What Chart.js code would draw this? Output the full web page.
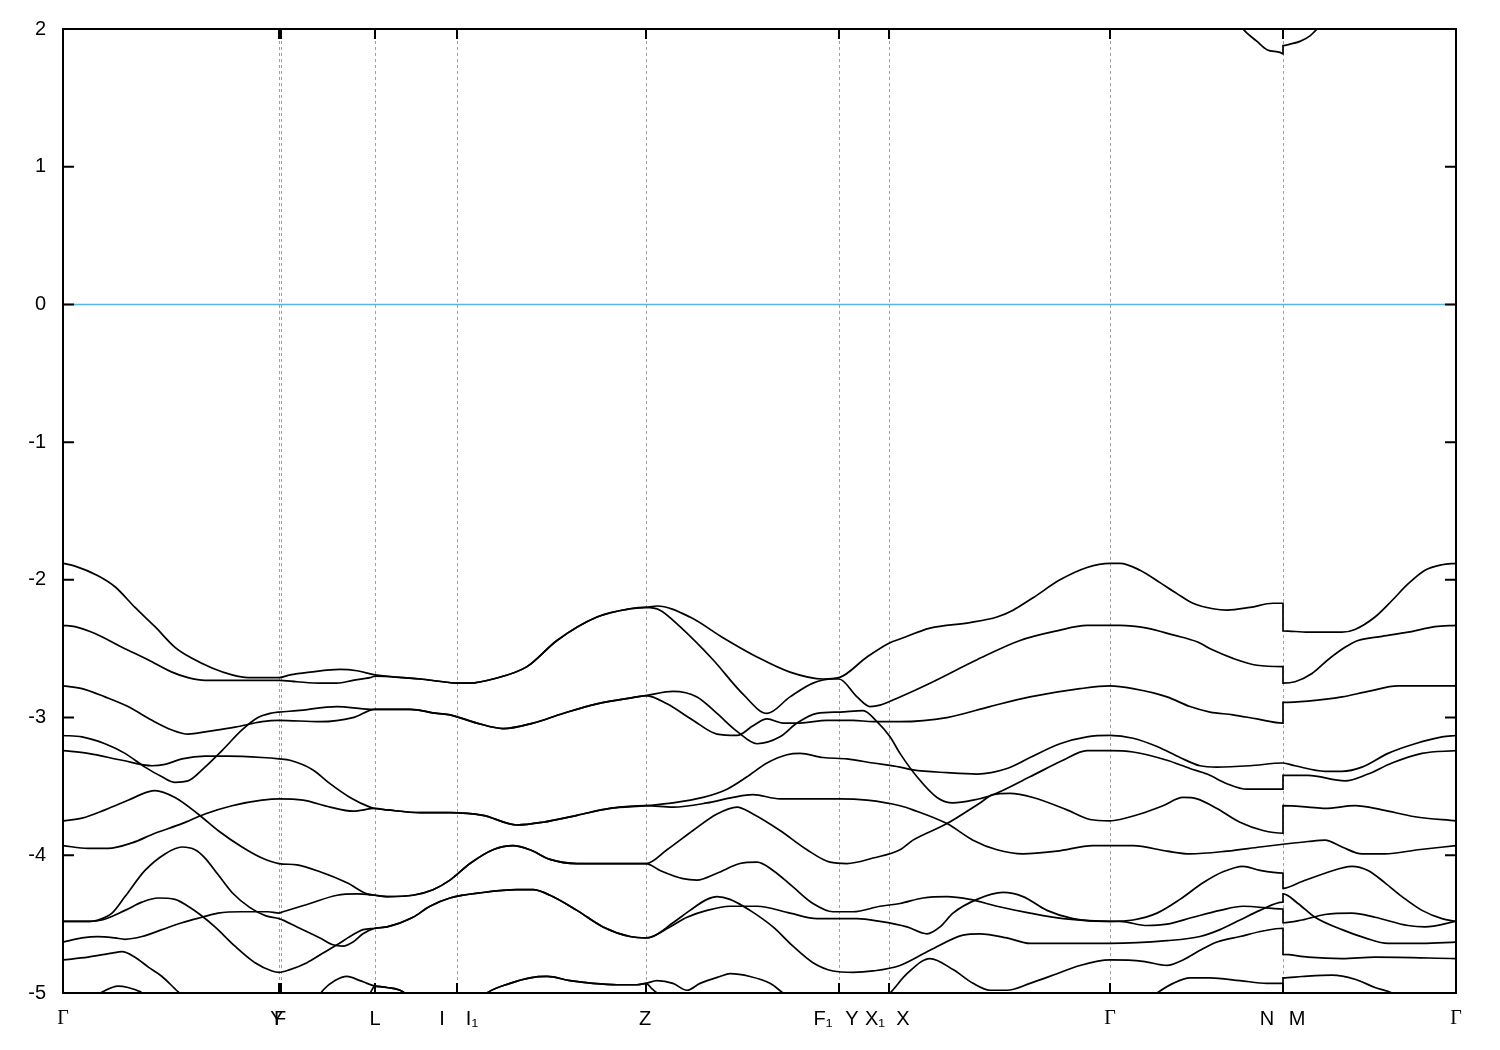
<!DOCTYPE html>
<html><head><meta charset="utf-8">
<script src="https://cdn.jsdelivr.net/npm/chart.js@4.4.1/dist/chart.umd.min.js"></script>
<style>html,body{margin:0;padding:0;background:#fff;}canvas{display:block;}</style>
</head><body>
<canvas id="c" width="1500" height="1050"></canvas>
<script>
// high-symmetry k positions (dashed lines) and path length
const kSym = [2.16, 2.18, 3.12, 3.94, 5.83, 7.76, 8.26, 10.47, 12.20];
const kMin = 0, kMax = 13.93;
// tick labels along the k path
const labelK = [0, 2.14, 2.17, 3.12, 3.79, 4.09, 5.82, 7.60, 7.89, 8.12, 8.40, 10.47, 12.04, 12.34, 13.93];
const labelText = ['Γ','Y','F','L','I','I₁','Z','F₁','Y','X₁','X','Γ','N','M','Γ'];
const yTicks = [2, 1, 0, -1, -2, -3, -4, -5];
const fermi = [[0, 0], [13.93, 0]];

const band1 = [[0,-1.88],[0.12,-1.90],[0.35,-1.97],[0.52,-2.05],[0.72,-2.20],[0.92,-2.34],[1.12,-2.49],[1.29,-2.57],[1.49,-2.64],[1.69,-2.69],[1.85,-2.71],[2.05,-2.71],[2.16,-2.71],
[2.27,-2.69],[2.47,-2.67],[2.77,-2.65],[2.94,-2.66],[3.12,-2.69],
[3.40,-2.71],[3.57,-2.72],[3.80,-2.74],[3.94,-2.75],[4.07,-2.75],[4.30,-2.72],[4.64,-2.63],[4.94,-2.44],[5.34,-2.27],[5.67,-2.21],[5.83,-2.20],
[5.94,-2.19],[6.27,-2.27],[6.60,-2.42],[6.94,-2.56],[7.27,-2.67],[7.60,-2.72],[7.76,-2.71],
[8.04,-2.56],[8.26,-2.46],[8.37,-2.43],[8.67,-2.35],[9.07,-2.31],[9.34,-2.27],[9.50,-2.22],[9.70,-2.13],[9.97,-2.00],[10.24,-1.91],[10.47,-1.88],
[10.57,-1.88],[10.77,-1.93],[10.97,-2.02],[11.14,-2.10],[11.30,-2.17],[11.50,-2.21],[11.64,-2.22],[11.87,-2.20],[12.10,-2.17],[12.20,-2.17],
[12.20,-2.37],[12.45,-2.38],[12.79,-2.38],[12.92,-2.36],[13.12,-2.27],[13.29,-2.15],[13.45,-2.03],[13.62,-1.93],[13.79,-1.89],[13.93,-1.88]];

const band2 = [[0,-2.33],[0.12,-2.34],[0.32,-2.39],[0.59,-2.49],[0.85,-2.58],[1.09,-2.67],[1.25,-2.71],[1.42,-2.73],[1.77,-2.73],[2.16,-2.73],
[2.34,-2.74],[2.57,-2.75],[2.74,-2.75],[2.90,-2.73],[3.07,-2.71],[3.12,-2.70],
[3.40,-2.71],[3.57,-2.72],[3.80,-2.74],[3.94,-2.75],[4.07,-2.75],[4.30,-2.72],[4.64,-2.63],[4.94,-2.44],[5.34,-2.27],[5.67,-2.21],[5.83,-2.20],
[5.97,-2.22],[6.17,-2.34],[6.50,-2.58],[6.80,-2.83],[7.04,-2.97],[7.27,-2.85],[7.50,-2.75],[7.70,-2.72],[7.76,-2.72],
[7.94,-2.85],[8.07,-2.92],[8.17,-2.91],[8.37,-2.85],[8.67,-2.75],[9.14,-2.58],[9.57,-2.44],[9.94,-2.37],[10.24,-2.33],[10.47,-2.33],
[10.57,-2.33],[10.84,-2.35],[11.10,-2.40],[11.34,-2.45],[11.50,-2.51],[11.70,-2.57],[11.94,-2.62],[12.20,-2.63],
[12.20,-2.75],[12.32,-2.74],[12.49,-2.68],[12.65,-2.58],[12.82,-2.49],[12.95,-2.44],[13.19,-2.41],[13.45,-2.38],[13.72,-2.34],[13.93,-2.33]];

const band3 = [[0,-2.77],[0.19,-2.79],[0.42,-2.85],[0.65,-2.92],[0.89,-3.02],[1.09,-3.09],[1.25,-3.12],[1.45,-3.10],[1.72,-3.07],[1.99,-3.03],[2.16,-3.02],
[2.57,-3.03],[2.90,-3.00],[3.12,-2.94],
[3.47,-2.94],[3.74,-2.97],[3.87,-2.98],[4.14,-3.04],[4.40,-3.08],[4.70,-3.04],[5.00,-2.97],[5.34,-2.90],[5.74,-2.85],[5.83,-2.84],
[6.04,-2.90],[6.30,-3.02],[6.54,-3.12],[6.74,-3.13],[6.90,-3.06],[7.04,-3.01],[7.20,-3.04],[7.37,-3.04],[7.64,-3.02],[7.90,-3.02],[8.10,-3.03],[8.37,-3.03],[8.84,-3.00],[9.27,-2.92],[9.67,-2.85],[10.17,-2.79],[10.47,-2.77],
[10.70,-2.79],[11.04,-2.85],[11.27,-2.92],[11.47,-2.96],[11.70,-2.98],[11.94,-3.01],[12.20,-3.04],
[12.20,-2.89],[12.45,-2.88],[12.79,-2.85],[13.05,-2.81],[13.35,-2.77],[13.55,-2.77],[13.93,-2.77]];

const band4 = [[0,-3.13],[0.19,-3.14],[0.42,-3.19],[0.62,-3.26],[0.82,-3.36],[0.99,-3.43],[1.12,-3.47],[1.25,-3.46],[1.42,-3.36],[1.59,-3.24],[1.79,-3.09],[1.95,-3.00],[2.07,-2.97],[2.16,-2.96],
[2.34,-2.95],[2.74,-2.92],[3.07,-2.94],[3.12,-2.94],
[3.47,-2.94],[3.74,-2.97],[3.87,-2.98],[4.14,-3.04],[4.40,-3.08],[4.70,-3.04],[5.00,-2.97],[5.34,-2.90],[5.74,-2.85],[5.83,-2.84],
[6.10,-2.81],[6.34,-2.85],[6.54,-2.97],[6.74,-3.10],[6.94,-3.19],[7.17,-3.14],[7.34,-3.04],[7.54,-2.97],[7.77,-2.96],[8.00,-2.95],[8.14,-3.03],[8.27,-3.14],[8.37,-3.26],[8.54,-3.43],[8.74,-3.58],[8.90,-3.62],[9.10,-3.60],[9.30,-3.56],[9.67,-3.43],[10.00,-3.31],[10.24,-3.24],[10.47,-3.24],
[10.70,-3.25],[11.04,-3.31],[11.27,-3.37],[11.44,-3.41],[11.64,-3.48],[11.84,-3.52],[12.20,-3.52],
[12.20,-3.42],[12.45,-3.42],[12.82,-3.46],[13.05,-3.41],[13.29,-3.33],[13.59,-3.26],[13.93,-3.24]];

const band5 = [[0,-3.24],[0.25,-3.26],[0.59,-3.31],[0.89,-3.35],[1.02,-3.34],[1.19,-3.30],[1.42,-3.28],[1.65,-3.28],[1.99,-3.29],[2.16,-3.30],
[2.27,-3.31],[2.50,-3.38],[2.67,-3.48],[2.87,-3.58],[3.07,-3.65],[3.12,-3.66],
[3.24,-3.67],[3.57,-3.69],[3.87,-3.69],[4.20,-3.71],[4.54,-3.78],[4.80,-3.76],[5.14,-3.71],[5.47,-3.66],[5.83,-3.64],
[6.10,-3.62],[6.40,-3.58],[6.64,-3.52],[6.84,-3.43],[7.04,-3.33],[7.24,-3.27],[7.37,-3.26],[7.60,-3.29],[7.84,-3.30],[8.10,-3.33],[8.37,-3.36],[8.50,-3.38],[8.84,-3.40],[9.14,-3.41],[9.44,-3.37],[9.67,-3.29],[9.97,-3.19],[10.24,-3.14],[10.47,-3.13],
[10.70,-3.15],[10.94,-3.21],[11.17,-3.29],[11.37,-3.35],[11.54,-3.36],[11.87,-3.35],[12.20,-3.33],[12.32,-3.35],[12.62,-3.39],[12.79,-3.39],[12.99,-3.36],[13.25,-3.26],[13.52,-3.19],[13.79,-3.14],[13.93,-3.13]];

const band6 = [[0,-3.75],[0.19,-3.73],[0.42,-3.67],[0.65,-3.60],[0.85,-3.54],[0.92,-3.53],[1.12,-3.58],[1.35,-3.70],[1.55,-3.82],[1.79,-3.94],[1.99,-4.02],[2.16,-4.06],
[2.34,-4.07],[2.57,-4.12],[2.84,-4.20],[3.04,-4.28],[3.12,-4.29],
[3.24,-4.30],[3.50,-4.29],[3.70,-4.25],[3.87,-4.18],[4.07,-4.06],[4.30,-3.96],[4.50,-3.93],[4.67,-3.96],[4.87,-4.03],[5.14,-4.06],[5.54,-4.06],[5.83,-4.06],
[6.04,-3.96],[6.30,-3.82],[6.54,-3.70],[6.74,-3.65],[6.90,-3.70],[7.17,-3.82],[7.44,-3.96],[7.67,-4.05],[7.84,-4.06],[8.10,-4.02],[8.37,-3.96],[8.50,-3.89],[8.84,-3.77],[9.17,-3.62],[9.30,-3.56],[9.47,-3.55],[9.70,-3.58],[10.04,-3.67],[10.27,-3.74],[10.47,-3.75],
[10.57,-3.74],[10.77,-3.70],[11.00,-3.64],[11.20,-3.58],[11.34,-3.59],[11.54,-3.66],[11.77,-3.76],[12.00,-3.82],[12.20,-3.84],
[12.20,-3.64],[12.45,-3.65],[12.62,-3.66],[12.92,-3.64],[13.19,-3.67],[13.52,-3.72],[13.93,-3.75]];

const band7 = [[0,-3.93],[0.25,-3.95],[0.45,-3.95],[0.69,-3.91],[0.92,-3.84],[1.19,-3.77],[1.42,-3.70],[1.69,-3.64],[1.99,-3.60],[2.16,-3.59],
[2.40,-3.60],[2.67,-3.65],[2.90,-3.68],[3.12,-3.66],
[3.24,-3.67],[3.57,-3.69],[3.87,-3.69],[4.20,-3.71],[4.54,-3.78],[4.80,-3.76],[5.14,-3.71],[5.47,-3.66],[5.83,-3.64],
[6.10,-3.65],[6.44,-3.62],[6.70,-3.58],[6.90,-3.56],[7.17,-3.59],[7.50,-3.59],[7.77,-3.59],[8.04,-3.60],[8.37,-3.64],[8.50,-3.67],[8.84,-3.77],[9.10,-3.89],[9.34,-3.96],[9.60,-3.99],[9.94,-3.97],[10.30,-3.93],[10.47,-3.93],
[10.70,-3.93],[11.04,-3.97],[11.27,-3.99],[11.64,-3.97],[11.97,-3.94],[12.20,-3.92],[12.45,-3.90],[12.62,-3.89],[12.79,-3.94],[12.99,-3.99],[13.22,-3.99],[13.55,-3.96],[13.93,-3.93]];

const band8 = [[0,-4.48],[0.27,-4.48],[0.35,-4.47],[0.49,-4.42],[0.62,-4.30],[0.82,-4.11],[1.02,-3.99],[1.19,-3.94],[1.32,-3.96],[1.42,-4.02],[1.55,-4.14],[1.69,-4.27],[1.87,-4.38],[2.03,-4.44],[2.16,-4.46],
[2.34,-4.52],[2.57,-4.60],[2.70,-4.65],[2.80,-4.66],[2.90,-4.63],[3.00,-4.57],[3.12,-4.53],
[3.24,-4.52],[3.50,-4.45],[3.67,-4.37],[3.87,-4.31],[4.20,-4.27],[4.54,-4.25],[4.70,-4.25],[4.87,-4.29],[5.14,-4.40],[5.40,-4.52],[5.67,-4.59],[5.83,-4.60],
[5.90,-4.59],[6.10,-4.49],[6.27,-4.40],[6.44,-4.32],[6.54,-4.30],[6.67,-4.32],[6.87,-4.40],[7.10,-4.52],[7.30,-4.66],[7.50,-4.78],[7.70,-4.84],[7.90,-4.85],[8.10,-4.84],[8.37,-4.80],[8.67,-4.69],[9.00,-4.58],[9.17,-4.57],[9.44,-4.60],[9.67,-4.64],[10.17,-4.64],[10.47,-4.64],
[11.04,-4.62],[11.37,-4.59],[11.57,-4.54],[11.77,-4.47],[11.97,-4.40],[12.20,-4.34],
[12.20,-4.28],[12.35,-4.35],[12.52,-4.45],[12.79,-4.54],[13.02,-4.60],[13.25,-4.64],[13.59,-4.64],[13.93,-4.63]];

const band9 = [[0,-4.48],[0.27,-4.48],[0.39,-4.47],[0.62,-4.40],[0.79,-4.34],[0.95,-4.31],[1.12,-4.32],[1.25,-4.37],[1.37,-4.43],[1.52,-4.52],[1.72,-4.66],[1.92,-4.78],[2.09,-4.84],[2.16,-4.85],
[2.27,-4.83],[2.44,-4.78],[2.60,-4.71],[2.74,-4.65],[2.87,-4.59],[3.00,-4.54],[3.12,-4.53],
[3.24,-4.52],[3.50,-4.45],[3.67,-4.37],[3.87,-4.31],[4.20,-4.27],[4.54,-4.25],[4.70,-4.25],[4.87,-4.29],[5.14,-4.40],[5.40,-4.52],[5.67,-4.59],[5.83,-4.60],
[6.07,-4.52],[6.24,-4.45],[6.44,-4.40],[6.67,-4.37],[6.94,-4.37],[7.27,-4.42],[7.54,-4.46],[7.94,-4.46],[8.17,-4.48],[8.44,-4.52],[8.64,-4.57],[8.77,-4.52],[8.90,-4.42],[9.14,-4.32],[9.40,-4.27],[9.60,-4.30],[9.84,-4.40],[10.10,-4.46],[10.47,-4.48],
[10.70,-4.47],[10.94,-4.42],[11.17,-4.32],[11.40,-4.20],[11.60,-4.12],[11.80,-4.08],[11.97,-4.11],[12.20,-4.13],
[12.20,-4.24],[12.39,-4.19],[12.62,-4.13],[12.89,-4.08],[13.05,-4.11],[13.22,-4.20],[13.39,-4.30],[13.59,-4.40],[13.79,-4.46],[13.93,-4.48]];

const band10 = [[0,-4.63],[0.19,-4.60],[0.35,-4.59],[0.52,-4.60],[0.62,-4.61],[0.79,-4.59],[0.99,-4.54],[1.19,-4.49],[1.39,-4.45],[1.55,-4.42],[1.79,-4.41],[2.05,-4.41],[2.16,-4.42],
[2.20,-4.41],[2.47,-4.35],[2.74,-4.29],[2.94,-4.28],[3.12,-4.29],
[3.24,-4.30],[3.50,-4.29],[3.70,-4.25],[3.87,-4.18],[4.07,-4.06],[4.30,-3.96],[4.50,-3.93],[4.67,-3.96],[4.87,-4.03],[5.14,-4.06],[5.54,-4.06],[5.83,-4.06],
[5.97,-4.11],[6.20,-4.17],[6.34,-4.18],[6.54,-4.13],[6.77,-4.06],[6.94,-4.05],[7.10,-4.11],[7.30,-4.23],[7.50,-4.35],[7.70,-4.41],[7.90,-4.41],[8.17,-4.37],[8.37,-4.35],[8.60,-4.31],[8.84,-4.30],[9.07,-4.32],[9.34,-4.37],[9.67,-4.42],[10.00,-4.46],[10.47,-4.48],
[10.57,-4.48],[10.84,-4.51],[11.04,-4.50],[11.30,-4.45],[11.57,-4.40],[11.80,-4.37],[12.20,-4.39],
[12.20,-4.49],[12.39,-4.47],[12.62,-4.43],[12.89,-4.42],[13.12,-4.45],[13.45,-4.51],[13.62,-4.52],[13.93,-4.48]];

const band11 = [[0,-4.76],[0.25,-4.74],[0.49,-4.71],[0.59,-4.70],[0.72,-4.74],[0.85,-4.81],[0.99,-4.88],[1.15,-4.99],[1.32,-5.09],[1.67,-5.16],[2.27,-5.16],[2.52,-5.06],[2.60,-4.98],[2.72,-4.91],[2.84,-4.88],[2.97,-4.91],[3.04,-4.93],[3.12,-4.95],
[3.24,-4.96],[3.37,-4.98],[3.52,-5.05],[3.87,-5.12],[4.17,-5.05],[4.24,-5.00],[4.47,-4.93],[4.67,-4.89],[4.84,-4.88],[5.07,-4.91],[5.30,-4.93],[5.54,-4.94],[5.74,-4.94],[5.83,-4.93],
[5.94,-4.91],[6.10,-4.93],[6.24,-4.98],[6.37,-4.93],[6.57,-4.88],[6.67,-4.86],[6.87,-4.88],[7.07,-4.93],[7.20,-5.00],[7.37,-5.09],[7.77,-5.16],[8.07,-5.12],[8.22,-5.03],[8.27,-5.00],[8.44,-4.86],[8.67,-4.75],[8.90,-4.83],[9.10,-4.93],[9.27,-4.98],[9.44,-4.98],[9.67,-4.93],[9.94,-4.86],[10.17,-4.80],[10.47,-4.76],
[10.80,-4.77],[11.04,-4.80],[11.20,-4.76],[11.37,-4.69],[11.54,-4.63],[11.77,-4.59],[12.00,-4.55],[12.20,-4.53],
[12.20,-4.72],[12.45,-4.74],[12.79,-4.75],[13.12,-4.74],[13.93,-4.75]];

const band12 = [[0,-5.12],[0.27,-5.05],[0.40,-4.99],[0.55,-4.95],[0.65,-4.96],[0.77,-4.99],[0.89,-5.05],[1.12,-5.16],[2.37,-5.19],[2.92,-5.09],[3.07,-5.00],[3.12,-4.95],
[3.24,-4.96],[3.37,-4.98],[3.52,-5.05],[3.87,-5.12],[4.17,-5.05],[4.24,-5.00],[4.47,-4.93],[4.67,-4.89],[4.84,-4.88],[5.07,-4.91],[5.30,-4.93],[5.54,-4.94],[5.74,-4.94],[5.83,-4.93],
[5.89,-4.97],[5.94,-5.00],[6.07,-5.09],[6.50,-5.20],[10.00,-5.25],[10.77,-5.09],[10.94,-5.00],[11.10,-4.93],[11.27,-4.89],[11.47,-4.89],[11.77,-4.91],[12.04,-4.93],[12.20,-4.93],
[12.20,-4.89],[12.39,-4.88],[12.69,-4.87],[12.92,-4.90],[13.12,-4.96],[13.29,-5.00],[13.57,-5.12],[13.93,-5.12]];

const cband = [[11.72,2.09],[11.80,2.00],[11.94,1.91],[12.04,1.85],[12.17,1.83],[12.20,1.82],[12.20,1.88],[12.27,1.89],[12.37,1.91],[12.47,1.95],[12.54,2.00],[12.62,2.07]];

const bands = [band1, band2, band3, band4, band5, band6, band7, band8, band9, band10, band11, band12, cband];
const toXY = arr => arr.map(p => ({x: p[0], y: p[1]}));

const datasets = bands.map(b => ({
  data: toXY(b), borderColor: '#000', borderWidth: 1.7, pointRadius: 0,
  cubicInterpolationMode: 'monotone', fill: false
}));
datasets.push({data: toXY(fermi), borderColor: 'rgb(86,180,233)', borderWidth: 1.5, pointRadius: 0, fill: false});

const framePlugin = {
  id: 'frame',
  beforeDatasetsDraw(chart) {
    const {ctx, chartArea: a, scales: {x}} = chart;
    ctx.save();
    ctx.strokeStyle = '#a0a0a0'; ctx.lineWidth = 1; ctx.setLineDash([3, 3]);
    kSym.forEach(k => {
      const px = Math.round(x.getPixelForValue(k)) + 0.5;
      ctx.beginPath(); ctx.moveTo(px, a.top); ctx.lineTo(px, a.bottom); ctx.stroke();
    });
    ctx.restore();
  },
  afterDatasetsDraw(chart) {
    const {ctx, chartArea: a, scales: {x, y}} = chart;
    ctx.save();
    ctx.strokeStyle = '#000'; ctx.lineWidth = 2; ctx.setLineDash([]);
    ctx.strokeRect(a.left, a.top, a.right - a.left, a.bottom - a.top);
    ctx.beginPath();
    yTicks.forEach(v => {
      const py = y.getPixelForValue(v);
      ctx.moveTo(a.left, py); ctx.lineTo(a.left + 11, py);
      ctx.moveTo(a.right, py); ctx.lineTo(a.right - 11, py);
    });
    kSym.forEach(k => {
      const px = x.getPixelForValue(k);
      ctx.moveTo(px, a.bottom); ctx.lineTo(px, a.bottom - 10);
      ctx.moveTo(px, a.top); ctx.lineTo(px, a.top + 10);
    });
    ctx.stroke();
    ctx.restore();
  }
};

new Chart(document.getElementById('c'), {
  type: 'line',
  data: {datasets},
  options: {
    responsive: false, animation: false,
    layout: {padding: {top: 28, right: 44, left: 0, bottom: 0}},
    plugins: {legend: {display: false}, tooltip: {enabled: false}},
    scales: {
      x: {
        type: 'linear', min: kMin, max: kMax,
        grid: {display: false, drawTicks: false}, border: {display: false},
        afterBuildTicks: s => { s.ticks = labelK.map(v => ({value: v})); },
        afterFit: s => { s.height = 57; },
        ticks: {
          autoSkip: false, maxRotation: 0, minRotation: 0, padding: 14, color: '#000',
          font: c => ({family: labelText[c.index] === 'Γ' ? '"Liberation Serif", serif' : '"Liberation Sans", Arial, sans-serif', size: 20}),
          callback: (v, i) => labelText[i]
        }
      },
      y: {
        min: -5, max: 2,
        afterFit: s => { s.width = 63; },
        grid: {display: false, drawTicks: false}, border: {display: false},
        ticks: {stepSize: 1, padding: 17, color: '#000', font: {family: '"Liberation Sans", Arial, sans-serif', size: 20}}
      }
    }
  },
  plugins: [framePlugin]
});
</script>
</body></html>
